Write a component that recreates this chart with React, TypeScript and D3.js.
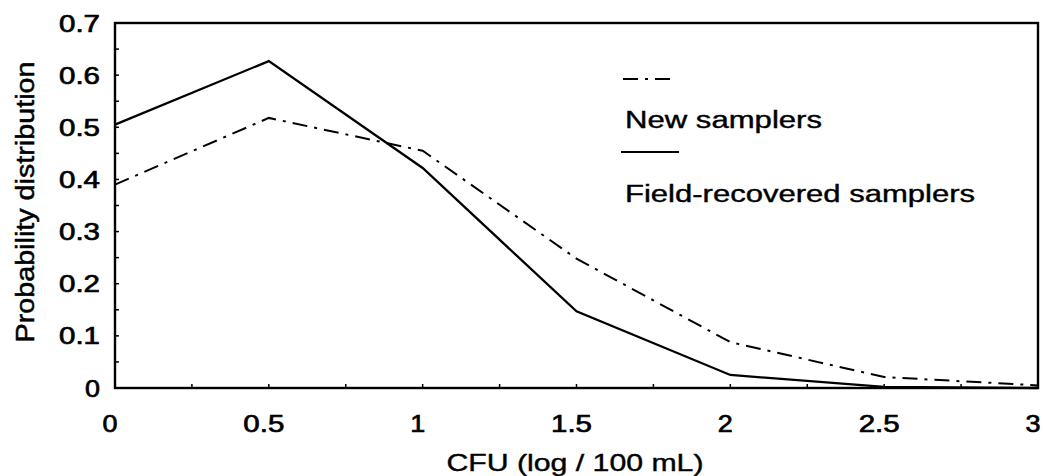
import React from "react";
import * as d3 from "d3";

const xValues = [0, 0.5, 1, 1.5, 2, 2.5, 3];
const newSamplers = [0.39, 0.518, 0.455, 0.248, 0.088, 0.021, 0.005];
const fieldRecovered = [0.505, 0.627, 0.422, 0.147, 0.025, 0.002, 0];
const xTicks = [0, 0.5, 1, 1.5, 2, 2.5, 3];
const xTickLabels = ["0", "0.5", "1", "1.5", "2", "2.5", "3"];
const yTicks = [0, 0.1, 0.2, 0.3, 0.4, 0.5, 0.6, 0.7];
const yTickLabels = ["0", "0.1", "0.2", "0.3", "0.4", "0.5", "0.6", "0.7"];
const xMinor = d3.range(0, 3.001, 0.25);
const yMinor = d3.range(0, 0.7001, 0.05);

const W = 1043;
const H = 476;
const left = 115;
const right = 1038;
const top = 23;
const bottom = 388;

export default function App() {
  const x = d3.scaleLinear().domain([0, 3]).range([left, right]);
  const y = d3.scaleLinear().domain([0, 0.7]).range([bottom, top]);
  const line = d3
    .line<number>()
    .x((_, i) => x(xValues[i]))
    .y((d) => y(d));
  const font = "Arial, 'Liberation Sans', Helvetica, sans-serif";
  const tickW = (s: string) => (s.length === 1 ? 15 : 41);
  const heavy = { stroke: "#000", strokeWidth: 0.7 };
  return (
    <svg
      width={W}
      height={H}
      style={{ position: "absolute", left: 0, top: 0, background: "#fff" }}
      fontFamily={font}
    >
      <rect x={0} y={0} width={W} height={H} fill="#fff" />
      {yMinor.map((v, i) => (
        <line key={"ym" + i} x1={left} x2={left + 4} y1={y(v)} y2={y(v)} stroke="#000" strokeWidth={1.5} />
      ))}
      {xMinor.map((v, i) => (
        <line key={"xm" + i} x1={x(v)} x2={x(v)} y1={bottom} y2={bottom - 4} stroke="#000" strokeWidth={1.5} />
      ))}
      <path d={line(newSamplers) || ""} fill="none" stroke="#000" strokeWidth={2} strokeDasharray="15,7,3,7" />
      <path d={line(fieldRecovered) || ""} fill="none" stroke="#000" strokeWidth={2.3} />
      <rect x={left} y={top} width={right - left} height={bottom - top} fill="none" stroke="#000" strokeWidth={2.4} />
      {yTicks.map((v, i) => (
        <text
          key={"yl" + i}
          x={100}
          y={y(v)}
          dy="0.36em"
          textAnchor="end"
          fontSize={24}
          {...heavy}
          textLength={tickW(yTickLabels[i])}
          lengthAdjust="spacingAndGlyphs"
        >
          {yTickLabels[i]}
        </text>
      ))}
      {xTicks.map((v, i) => (
        <text
          key={"xl" + i}
          x={x(v) - 5}
          y={432}
          textAnchor="middle"
          fontSize={24}
          {...heavy}
          textLength={tickW(xTickLabels[i])}
          lengthAdjust="spacingAndGlyphs"
        >
          {xTickLabels[i]}
        </text>
      ))}
      <text
        x={575}
        y={471}
        textAnchor="middle"
        fontSize={24}
        stroke="#000"
        strokeWidth={0.4}
        textLength={257}
        lengthAdjust="spacingAndGlyphs"
      >
        CFU (log / 100 mL)
      </text>
      <text
        transform={`translate(34,202) rotate(-90)`}
        textAnchor="middle"
        fontSize={26}
        stroke="#000"
        strokeWidth={0.5}
        textLength={281}
        lengthAdjust="spacingAndGlyphs"
      >
        Probability distribution
      </text>
      <line x1={623} x2={670} y1={79} y2={79} stroke="#000" strokeWidth={2} strokeDasharray="15,7,3,7" />
      <text x={625} y={128} fontSize={23} stroke="#000" strokeWidth={0.4} textLength={197} lengthAdjust="spacingAndGlyphs">
        New samplers
      </text>
      <line x1={621} x2={679} y1={152} y2={152} stroke="#000" strokeWidth={2} />
      <text x={625} y={202} fontSize={23} stroke="#000" strokeWidth={0.4} textLength={350} lengthAdjust="spacingAndGlyphs">
        Field-recovered samplers
      </text>
    </svg>
  );
}
